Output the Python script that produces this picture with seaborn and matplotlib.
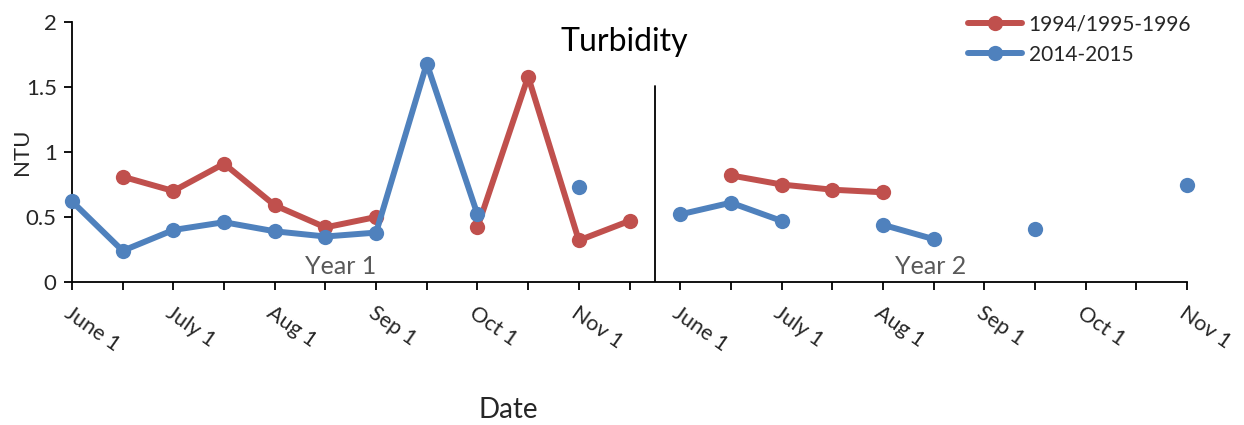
import numpy as np
import pandas as pd
import matplotlib
matplotlib.use("Agg")
import matplotlib.pyplot as plt
from matplotlib.lines import Line2D
import seaborn as sns

nan = np.nan
positions = list(range(23))
tick_labels = ["June 1", "", "July 1", "", "Aug 1", "", "Sep 1", "", "Oct 1", "", "Nov 1", "",
               "June 1", "", "July 1", "", "Aug 1", "", "Sep 1", "", "Oct 1", "", "Nov 1"]
series_names = ["1994/1995-1996", "2014-2015"]
red_vals = [nan, 0.81, 0.70, 0.91, 0.59, 0.42, 0.50, nan, 0.42, 1.58, 0.32, 0.47,
            nan, 0.82, 0.75, 0.71, 0.69, nan, nan, nan, nan, nan, nan]
blue_vals = [0.62, 0.24, 0.40, 0.46, 0.39, 0.35, 0.38, 1.68, 0.52, nan, 0.73, nan,
             0.52, 0.61, 0.47, nan, 0.44, 0.33, nan, 0.41, nan, nan, 0.75]
colors = ["#C0504D", "#4F81BD"]

sns.set_theme(style="white")
plt.rcParams['font.family'] = ['Lato', 'DejaVu Sans']

rows = []
for name, vals in zip(series_names, [red_vals, blue_vals]):
    seg = 0
    prev_nan = True
    for x, v in zip(positions, vals):
        if np.isnan(v):
            prev_nan = True
            continue
        if prev_nan:
            seg += 1
        prev_nan = False
        rows.append({"x": x, "y": v, "series": name, "seg": f"{name}-{seg}"})
df = pd.DataFrame(rows)

fig = plt.figure(figsize=(12.44, 4.25), dpi=100)
ax = fig.add_axes([72/1244, 1-282/425, (1187-72)/1244, 260/425])

sns.lineplot(data=df, x="x", y="y", hue="series", units="seg", estimator=None,
             palette=dict(zip(series_names, colors)), hue_order=series_names,
             marker="o", markersize=11, markeredgewidth=0, linewidth=4.3,
             legend=False, ax=ax, clip_on=False, zorder=3)
for ln in ax.lines:
    ln.set_solid_capstyle("round")
    ln.set_clip_on(False)

ax.set_xlim(0, 22)
ax.set_ylim(0, 2)
ax.set_xticks(positions)
ax.set_xticklabels(tick_labels, rotation=-35, ha="left", va="top",
                   rotation_mode="anchor", fontsize=15.5)
ax.set_yticks([0, 0.5, 1, 1.5, 2])
ax.set_yticklabels(["0", "0.5", "1", "1.5", "2"], fontsize=16)
ax.tick_params(axis="both", which="major", direction="out", length=6, width=1.3,
               color="black", bottom=True, left=True, pad=5)
ax.tick_params(axis="x", pad=9)
for s in ["top", "right"]:
    ax.spines[s].set_visible(False)
for s in ["left", "bottom"]:
    ax.spines[s].set_color("black")
    ax.spines[s].set_linewidth(1.3)
ax.set_xlabel("")
ax.set_ylabel("")

ax.plot([11.5, 11.5], [0, 1.51], color="black", linewidth=1.3, zorder=2)
ax.text(5.3, 0.12, "Year 1", color="#595959", fontsize=18, ha="center", va="center")
ax.text(16.95, 0.12, "Year 2", color="#595959", fontsize=18, ha="center", va="center")
ax.text((624-72)/1115, (282-42)/260, "Turbidity", transform=ax.transAxes,
        fontsize=23, ha="center", va="center", color="black")

fig.text(508/1244, 1-410/425, "Date", fontsize=20, ha="center", va="center")
fig.text(22/1244, 1-152/425, "NTU", fontsize=16, ha="center", va="center", rotation=90)

handles = [Line2D([0], [0], color=c, linewidth=4.3, marker="o", markersize=11,
                  markeredgewidth=0, solid_capstyle="round") for c in colors]
fig.legend(handles, series_names, loc="upper left", bbox_to_anchor=(960/1244, 1-6/425),
           frameon=False, fontsize=15, handlelength=2.6, handletextpad=0.3,
           labelspacing=0.5, borderaxespad=0)

fig.savefig("out.png", dpi=100)
